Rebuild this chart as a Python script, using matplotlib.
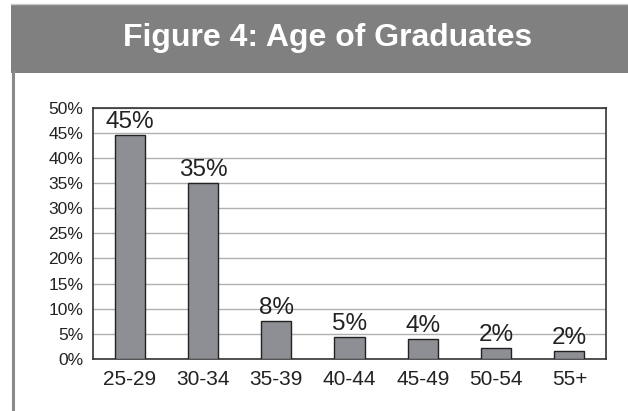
import matplotlib.pyplot as plt
from matplotlib.patches import Rectangle
from matplotlib.lines import Line2D

plt.rcParams['font.family'] = ['Liberation Sans', 'DejaVu Sans']

ages = ['25-29', '30-34', '35-39', '40-44', '45-49', '50-54', '55+']
share = [44.6, 35.0, 7.6, 4.3, 3.9, 2.2, 1.5]
share_labels = ['45%', '35%', '8%', '5%', '4%', '2%', '2%']
yticks = [0, 5, 10, 15, 20, 25, 30, 35, 40, 45, 50]

fig = plt.figure(figsize=(6.28, 4.11), dpi=100)
W, H = 628, 411

# title banner
fig.patches.append(Rectangle((11 / W, 1 - 72.5 / H), 1 - 11 / W, 68 / H,
                             transform=fig.transFigure, facecolor='#808080',
                             edgecolor='none', zorder=0))
fig.lines.append(Line2D([11 / W, 1], [1 - 4 / H, 1 - 4 / H], transform=fig.transFigure,
                        color='#c8c8c8', linewidth=1))
fig.lines.append(Line2D([12.5 / W, 12.5 / W], [0, 1 - 72 / H], transform=fig.transFigure,
                        color='#8a8a8a', linewidth=2.2))
fig.text(328 / W, 1 - 38 / H, 'Figure 4: Age of Graduates', color='white',
         fontsize=23, fontweight='bold', ha='center', va='center')

ax = fig.add_axes([93 / W, 1 - 359 / H, 513 / W, 251.5 / H])
x = range(len(ages))
bars = ax.bar(x, share, width=0.41, color='#8e8f94', edgecolor='#222222',
              linewidth=1, zorder=3)
for b, lab in zip(bars, share_labels):
    ax.text(b.get_x() + b.get_width() / 2, b.get_height() + 0.4, lab,
            ha='center', va='bottom', fontsize=17.5, color='#222222')

ax.set_xlim(-0.5, len(ages) - 0.5)
ax.set_ylim(0, 50)
ax.set_yticks(yticks)
ax.set_yticklabels([f'{t}%' for t in yticks])
ax.set_xticks(list(x))
ax.set_xticklabels(ages)
ax.tick_params(axis='y', length=0, pad=7, labelsize=12.5, labelcolor='#222222')
ax.tick_params(axis='x', length=0, pad=8, labelsize=15, labelcolor='#222222')
ax.yaxis.grid(True, color='#b0b0b0', linewidth=1, zorder=0)
ax.set_axisbelow(True)
for s in ax.spines.values():
    s.set_color('#333333')
    s.set_linewidth(1.2)

fig.savefig('out.png', dpi=100)
